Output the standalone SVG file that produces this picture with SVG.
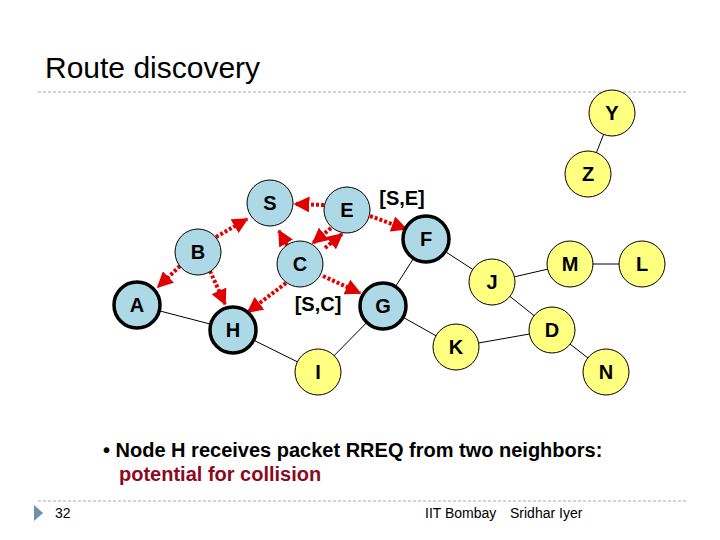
<svg xmlns="http://www.w3.org/2000/svg" width="720" height="540" viewBox="0 0 720 540">
<defs>
<marker id="ah" viewBox="0 0 10 10" refX="9" refY="5" markerWidth="4" markerHeight="4" orient="auto"><path d="M0,0L10,5L0,10z" fill="#e00000"/></marker>
<style>
.n{fill:#add8e6;stroke:#000;stroke-width:1}
.t{stroke-width:3.5}
.y{fill:#ffff80;stroke:#000;stroke-width:1}
.l{font-family:"Liberation Sans",Arial,sans-serif;font-weight:bold;font-size:20px;text-anchor:middle}
.e{stroke:#000;stroke-width:1;fill:none}
.r{stroke:#e00000;stroke-width:4;stroke-dasharray:3,2;fill:none;marker-end:url(#ah)}
</style>
</defs>
<rect width="720" height="540" fill="#fff"/>
<text x="45" y="78" font-family="Liberation Sans,Arial,sans-serif" font-size="30">Route discovery</text>
<line x1="38" y1="92" x2="686" y2="92" stroke="#aaa" stroke-dasharray="3,2"/>
<g id="connectors">
<line class="e" x1="137" y1="305" x2="233" y2="330"/>
<line class="e" x1="233" y1="330" x2="318" y2="372"/>
<line class="e" x1="318" y1="372" x2="383" y2="306"/>
<line class="e" x1="383" y1="306" x2="426" y2="239"/>
<line class="e" x1="383" y1="306" x2="456" y2="347"/>
<line class="e" x1="426" y1="239" x2="492" y2="282"/>
<line class="e" x1="492" y1="282" x2="570" y2="264"/>
<line class="e" x1="570" y1="264" x2="642" y2="264"/>
<line class="e" x1="492" y1="282" x2="552" y2="330"/>
<line class="e" x1="456" y1="347" x2="552" y2="330"/>
<line class="e" x1="552" y1="330" x2="606" y2="372"/>
<line class="e" x1="612" y1="113" x2="588" y2="174"/>
<line class="r" x1="324" y1="205" x2="295" y2="204"/>
<line class="r" x1="370" y1="216" x2="406" y2="229"/>
<line class="r" x1="331" y1="228" x2="313" y2="243"/>
<line class="r" x1="325" y1="248" x2="342" y2="234"/>
<line class="r" x1="287" y1="245" x2="279" y2="231"/>
<line class="r" x1="216" y1="237" x2="247" y2="219"/>
<line class="r" x1="180" y1="266" x2="158" y2="287"/>
<line class="r" x1="210" y1="271" x2="225" y2="304"/>
<line class="r" x1="286" y1="283" x2="248" y2="312"/>
<line class="r" x1="323" y1="276" x2="360" y2="293"/>
</g>
<g id="nS"><circle class="n" cx="270" cy="203" r="23"/><text class="l" x="270" y="210">S</text></g>
<g id="nE"><circle class="n" cx="347" cy="210" r="23"/><text class="l" x="347" y="217">E</text></g>
<g id="nB"><circle class="n" cx="198" cy="252" r="23"/><text class="l" x="198" y="259">B</text></g>
<g id="nC"><circle class="n" cx="300" cy="264" r="23"/><text class="l" x="300" y="271">C</text></g>
<g id="nA"><circle class="n t" cx="137" cy="305" r="23"/><text class="l" x="137" y="312">A</text></g>
<g id="nH"><circle class="n t" cx="233" cy="330" r="23"/><text class="l" x="233" y="337">H</text></g>
<g id="nG"><circle class="n t" cx="383" cy="306" r="23"/><text class="l" x="383" y="313">G</text></g>
<g id="nF"><circle class="n t" cx="426" cy="239" r="23"/><text class="l" x="426" y="246">F</text></g>
<g id="nI"><circle class="y" cx="318" cy="372" r="23"/><text class="l" x="318" y="379">I</text></g>
<g id="nJ"><circle class="y" cx="492" cy="282" r="23"/><text class="l" x="492" y="289">J</text></g>
<g id="nM"><circle class="y" cx="570" cy="264" r="23"/><text class="l" x="570" y="271">M</text></g>
<g id="nL"><circle class="y" cx="642" cy="264" r="23"/><text class="l" x="642" y="271">L</text></g>
<g id="nD"><circle class="y" cx="552" cy="330" r="23"/><text class="l" x="552" y="337">D</text></g>
<g id="nK"><circle class="y" cx="456" cy="347" r="23"/><text class="l" x="456" y="354">K</text></g>
<g id="nN"><circle class="y" cx="606" cy="372" r="23"/><text class="l" x="606" y="379">N</text></g>
<g id="nY"><circle class="y" cx="612" cy="113" r="23"/><text class="l" x="612" y="120">Y</text></g>
<g id="nZ"><circle class="y" cx="588" cy="174" r="23"/><text class="l" x="588" y="181">Z</text></g>
<text class="l" x="402" y="205">[S,E]</text>
<text class="l" x="318" y="311">[S,C]</text>
<text x="103" y="457" font-family="Liberation Sans,Arial,sans-serif" font-weight="bold" font-size="20">• Node H receives packet RREQ from two neighbors:</text>
<text x="119" y="481" font-family="Liberation Sans,Arial,sans-serif" font-weight="bold" font-size="20" fill="#8b0a1e">potential for collision</text>
<line x1="38" y1="501" x2="686" y2="501" stroke="#aaa" stroke-dasharray="3,2"/>
<path d="M34,505L43,513L34,521z" fill="#6e8fa8"/>
<text x="55" y="518" font-family="Liberation Sans,Arial,sans-serif" font-size="14">32</text>
<text x="425" y="518" font-family="Liberation Sans,Arial,sans-serif" font-size="14">IIT Bombay</text>
<text x="510" y="518" font-family="Liberation Sans,Arial,sans-serif" font-size="14">Sridhar Iyer</text>
</svg>
